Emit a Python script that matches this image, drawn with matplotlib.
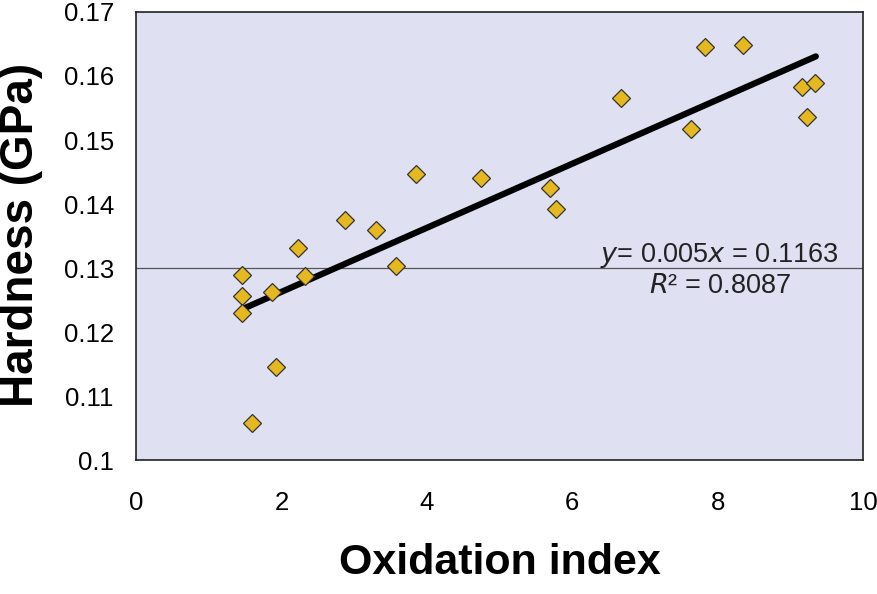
import numpy as np
import matplotlib.pyplot as plt

plt.rcParams['font.family'] = ['Liberation Sans', 'DejaVu Sans']

# oxidation index vs hardness
oxidation = [1.46, 1.46, 1.45, 1.60, 1.87, 1.93, 2.23, 2.32, 2.87, 3.30, 3.58,
             3.85, 4.75, 5.69, 5.78, 6.67, 7.63, 7.83, 8.35, 9.16, 9.23, 9.34]
hardness = [0.1289, 0.1256, 0.1230, 0.1058, 0.1263, 0.1145, 0.1331, 0.1288,
            0.1375, 0.1359, 0.1303, 0.1447, 0.1441, 0.1425, 0.1392, 0.1566,
            0.1517, 0.1645, 0.1648, 0.1583, 0.1536, 0.1589]

slope = 0.005
intercept = 0.1163
fit_range = [1.45, 9.35]

fig, ax = plt.subplots(figsize=(8.78, 5.94), dpi=100)
fig.subplots_adjust(left=0.155, right=0.983, top=0.98, bottom=0.225)
ax.set_facecolor('#dfe1f3')

ax.axhline(0.13, color='#555555', linewidth=0.9, zorder=1)

xf = np.array(fit_range)
ax.plot(xf, slope * xf + intercept, color='black', linewidth=4.5,
        solid_capstyle='round', zorder=2)

ax.plot(oxidation, hardness, linestyle='none', marker='D', markersize=9,
        markerfacecolor='#e6b820', markeredgecolor='#333333',
        markeredgewidth=0.9, zorder=3)

ax.text(8.03, 0.1309, r'$y$= 0.005$x$ = 0.1163', ha='center', va='baseline',
        fontsize=19.5, color='#222222')
ax.text(8.03, 0.1261, r'$R$² = 0.8087', ha='center', va='baseline',
        fontsize=19.5, color='#222222')

ax.set_xlim(0, 10)
ax.set_ylim(0.1, 0.17)
ax.set_xticks([0, 2, 4, 6, 8, 10])
ax.set_yticks([0.1, 0.11, 0.12, 0.13, 0.14, 0.15, 0.16, 0.17])
ax.set_yticklabels(['0.1', '0.11', '0.12', '0.13', '0.14', '0.15', '0.16', '0.17'])
ax.tick_params(length=0, labelsize=18.5, pad=22)
ax.tick_params(axis='y', pad=16)

for s in ax.spines.values():
    s.set_linewidth(1.2)
    s.set_color('#222222')

ax.set_xlabel('Oxidation index', fontsize=31, fontweight='bold', labelpad=20)
fig.text(0.024, 0.604, 'Hardness (GPa)', rotation=90, ha='center', va='center',
         fontsize=33, fontweight='bold')

fig.savefig('out.png', dpi=100)
